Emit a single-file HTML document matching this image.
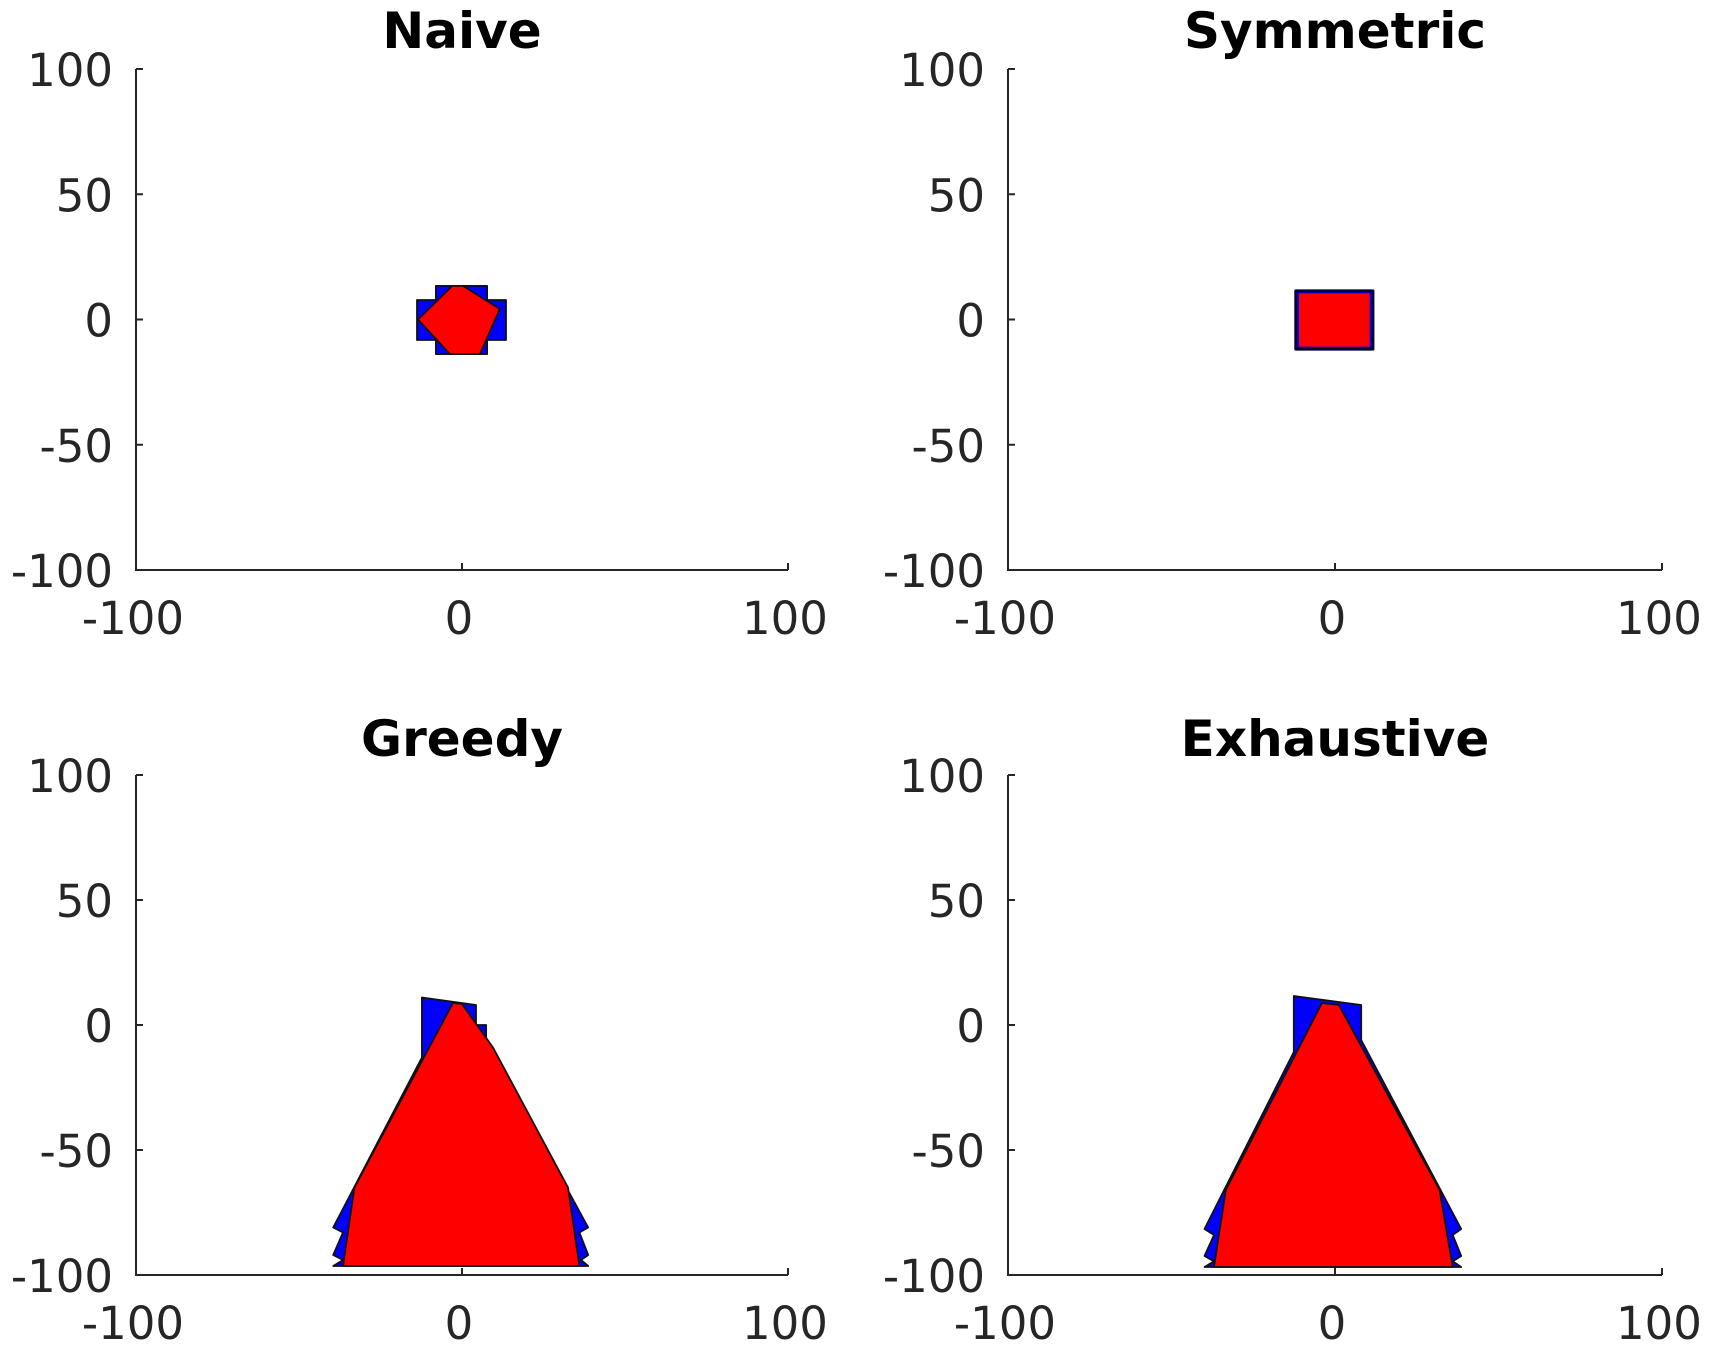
<!DOCTYPE html>
<html><head><meta charset="utf-8"><style>
html,body{margin:0;padding:0;background:#fff;}
svg{display:block;}
text{font-family:"DejaVu Sans","Liberation Sans",sans-serif;}
</style></head><body>
<svg id="fig" width="1709" height="1355" viewBox="0 0 1709 1355" xmlns="http://www.w3.org/2000/svg"></svg>
<script>
const panelTitles = ["Naive","Symmetric","Greedy","Exhaustive"];
const xTicks = [-100,0,100];
const yTicks = [-100,-50,0,50,100];
const xTickLabels = ["-100","0","100"];
const yTickLabels = ["-100","-50","0","50","100"];
// polygons in data coords [x,y]
const naiveBlue = [[-8,13.4],[7.7,13.4],[7.7,7.8],[13.5,7.8],[13.5,-8.2],[7.7,-8.2],[7.7,-13.8],[-8,-13.8],[-8,-8.2],[-13.8,-8.2],[-13.8,7.8],[-8,7.8]];
const naiveRed = [[-3,13.4],[0.3,13.4],[11.6,4.2],[5.5,-13.8],[-3.7,-13.8],[-13.5,0]];
const symBlue = [[-12,11.4],[11.6,11.4],[11.6,-11.8],[-12,-11.8]];
const symRed = [[-11,10.4],[10.6,10.4],[10.6,-10.8],[-11,-10.8]];
const greedyBlue = [[-12.3,11],[4.3,8],[4.3,0],[7.4,0],[7.4,-6],[38.7,-81],[36,-83],[38.7,-92],[36.5,-94],[38.7,-96.4],[-39.5,-96.4],[-36.5,-94],[-39.5,-92],[-36.5,-83],[-39.5,-81],[-12.3,-13]];
const greedyRed = [[-2.8,8.8],[0,8.4],[9.5,-9],[32.5,-65],[36,-96.4],[-36.5,-96.4],[-33,-65]];
const exhBlue = [[-12.6,11.6],[8,8],[8,-6],[38.6,-81.6],[36,-84],[38.6,-92.4],[36,-94.5],[38.6,-96.8],[-39.9,-96.8],[-37,-94.5],[-39.9,-92.4],[-37,-84],[-39.9,-81.6],[-12.6,-10.8]];
const exhRed = [[-4,8.8],[1.2,8],[32,-66],[36,-96.8],[-37,-96.8],[-33.4,-66]];
const panelBlue = [naiveBlue,symBlue,greedyBlue,exhBlue];
const panelRed = [naiveRed,symRed,greedyRed,exhRed];

const NS="http://www.w3.org/2000/svg";
const svg=document.getElementById('fig');
const boxes=[{l:136,r:788,t:69,b:570,ty:48},{l:1008,r:1662,t:69,b:570,ty:48},{l:136,r:788,t:775,b:1275,ty:756},{l:1008,r:1662,t:775,b:1275,ty:756}];
function mk(tag,attrs){const e=document.createElementNS(NS,tag);for(const k in attrs)e.setAttribute(k,attrs[k]);return e;}
boxes.forEach((bx,i)=>{
  const g=mk('g',{});
  
  
  svg.appendChild(g);
  const sx=v=>bx.l+(v+100)/200*(bx.r-bx.l);
  const sy=v=>bx.b-(v+100)/200*(bx.b-bx.t);
  const pts=a=>a.map(p=>sx(p[0]).toFixed(1)+','+sy(p[1]).toFixed(1)).join(' ');
  const blue=mk('polygon',{points:pts(panelBlue[i]),fill:'#0000ff',stroke:i==1?'#000033':'#111',"stroke-width":i==1?3:1.8,"stroke-linejoin":'round'});
  
  
  g.appendChild(blue);
  const red=mk('polygon',{points:pts(panelRed[i]),fill:'#ff0000',stroke:i==1?'none':'#111',"stroke-width":1.8,"stroke-linejoin":'round'});
  
  
  g.appendChild(red);
  const ax=mk('path',{d:`M${bx.l},${bx.t}V${bx.b}H${bx.r}`,fill:'none',stroke:'#262626',"stroke-width":2});
  
  
  g.appendChild(ax);
  yTicks.forEach((v,j)=>{
    const y=sy(v);
    const tk=mk('line',{x1:bx.l,x2:bx.l+7,y1:y,y2:y,stroke:'#262626',"stroke-width":2});
    
    
    g.appendChild(tk);
    const t=mk('text',{x:bx.l-23,y:y+17,"text-anchor":'end',"font-size":45,fill:'#262626'});
    t.textContent=yTickLabels[j];
    
    
    g.appendChild(t);
  });
  xTicks.forEach((v,j)=>{
    const x=sx(v);
    const tk=mk('line',{x1:x,x2:x,y1:bx.b,y2:bx.b-7,stroke:'#262626',"stroke-width":2});
    
    
    g.appendChild(tk);
    const t=mk('text',{x:x-3,y:bx.b+64,"text-anchor":'middle',"font-size":45,fill:'#262626'});
    t.textContent=xTickLabels[j];
    
    
    g.appendChild(t);
  });
  const tt=mk('text',{x:(bx.l+bx.r)/2,y:bx.ty,"text-anchor":'middle',"font-size":50,"font-weight":'bold',fill:'#000'});
  tt.textContent=panelTitles[i];
  
  
  g.appendChild(tt);
});
</script>
</body></html>
